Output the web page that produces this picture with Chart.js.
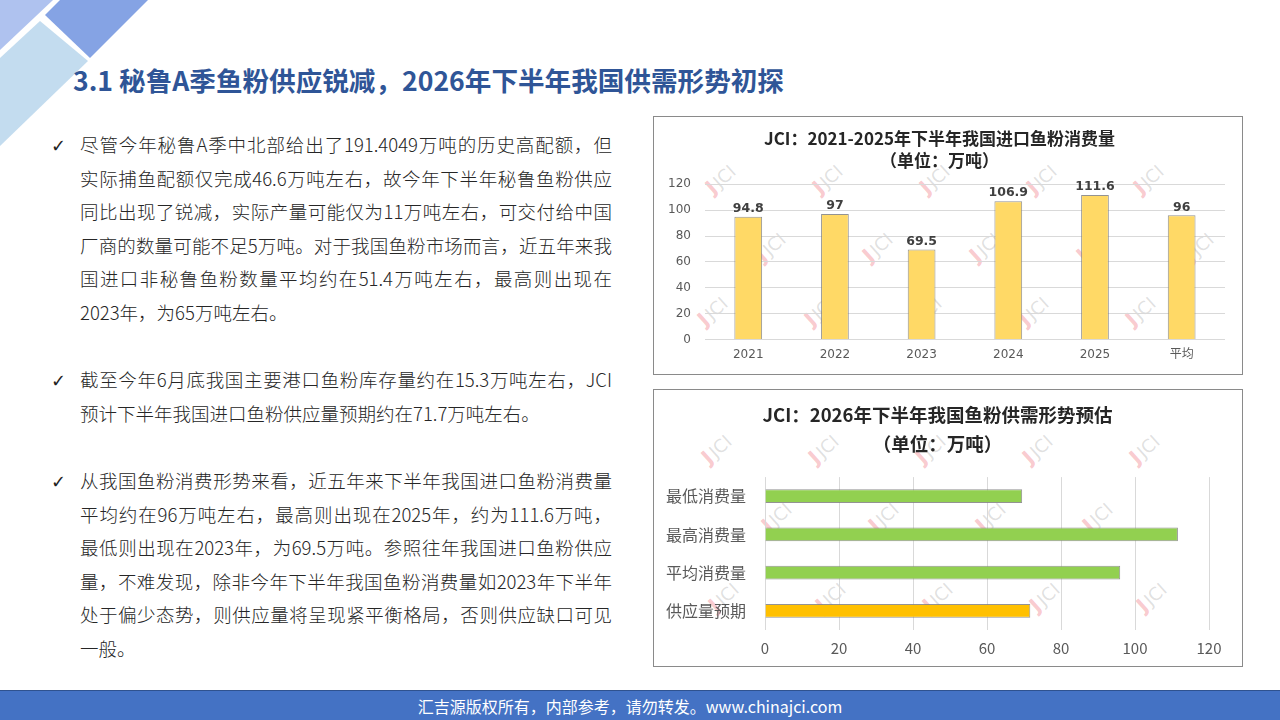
<!DOCTYPE html>
<html>
<head>
<meta charset="utf-8">
<script src="https://cdn.jsdelivr.net/npm/chart.js@4"></script>
<style>
  body{margin:0;width:1280px;height:720px;overflow:hidden;background:#fff;font-family:"Noto Sans CJK SC","Noto Sans",sans-serif;position:relative}
  #deco{position:absolute;left:0;top:0}
  #title{position:absolute;left:73px;top:62px;font-size:26.6px;line-height:36px;font-weight:bold;color:#2F5597;white-space:nowrap}
  #body{position:absolute;left:80px;top:128px;width:532px;font-size:18.5px;line-height:33.6px;color:#262626;font-weight:300}
  .para{position:relative;margin-bottom:33.6px}
  .para::before{content:"\2713";position:absolute;left:-29px;top:1px;font-family:"DejaVu Sans";font-size:18px;color:#222}
  .ln{text-align:justify;text-align-last:justify;white-space:nowrap}
  .ln.end{text-align-last:left}
  .box{position:absolute;left:653px;width:590px;border:1px solid #8a8a8a;box-sizing:border-box;background:#fff}
  .box canvas{position:relative;z-index:2}
  .wmlayer{position:absolute;left:0;top:0;width:100%;height:100%;z-index:1;overflow:hidden}
  .wm{position:absolute;transform:rotate(-42deg);font-family:"DejaVu Sans";font-size:18px;color:rgba(160,160,160,.33);white-space:nowrap}
  .wm b{color:rgba(240,120,130,.4);font-size:20px;margin-right:2px}
  #footer{position:absolute;left:0;top:690px;width:1280px;height:30px;background:#4472C4;border-top:1px solid #2F528F;box-sizing:border-box}
  #footer span{position:absolute;left:0;width:1260px;text-align:center;top:4px;font-size:16px;color:#fff;line-height:22px}
</style>
</head>
<body>
<svg id="deco" width="160" height="160">
  <polygon points="0,0 53,0 0,50" fill="#AFC2EF"/>
  <polygon points="60,0 148,0 90,58 45,15" fill="#85A3E4"/>
  <polygon points="40,21 88,61 0,146 0,58" fill="#C3DCEF"/>
</svg>
<div id="title">3.1 秘鲁A季鱼粉供应锐减，2026年下半年我国供需形势初探</div>

<div id="body">
  <div class="para">
    <div class="ln">尽管今年秘鲁A季中北部给出了191.4049万吨的历史高配额，但</div>
    <div class="ln">实际捕鱼配额仅完成46.6万吨左右，故今年下半年秘鲁鱼粉供应</div>
    <div class="ln">同比出现了锐减，实际产量可能仅为11万吨左右，可交付给中国</div>
    <div class="ln">厂商的数量可能不足5万吨。对于我国鱼粉市场而言，近五年来我</div>
    <div class="ln">国进口非秘鲁鱼粉数量平均约在51.4万吨左右，最高则出现在</div>
    <div class="ln end">2023年，为65万吨左右。</div>
  </div>
  <div class="para">
    <div class="ln">截至今年6月底我国主要港口鱼粉库存量约在15.3万吨左右，JCI</div>
    <div class="ln end">预计下半年我国进口鱼粉供应量预期约在71.7万吨左右。</div>
  </div>
  <div class="para">
    <div class="ln">从我国鱼粉消费形势来看，近五年来下半年我国进口鱼粉消费量</div>
    <div class="ln">平均约在96万吨左右，最高则出现在2025年，约为111.6万吨，</div>
    <div class="ln">最低则出现在2023年，为69.5万吨。参照往年我国进口鱼粉供应</div>
    <div class="ln">量，不难发现，除非今年下半年我国鱼粉消费量如2023年下半年</div>
    <div class="ln">处于偏少态势，则供应量将呈现紧平衡格局，否则供应缺口可见</div>
    <div class="ln end">一般。</div>
  </div>
</div>

<div class="box" id="box1" style="top:116px;height:259px"><div class="wmlayer" id="wm1"></div><canvas id="c1"></canvas></div>
<div class="box" id="box2" style="top:389px;height:278px"><div class="wmlayer" id="wm2"></div><canvas id="c2"></canvas></div>

<div id="footer"><span>汇吉源版权所有，内部参考，请勿转发。www.chinajci.com</span></div>

<script>
// chart 1 data
const years = ["2021", "2022", "2023", "2024", "2025", "平均"];
const consumption = [94.8, 97, 69.5, 106.9, 111.6, 96];
// chart 2 data
const balanceLabels = ["最低消费量", "最高消费量", "平均消费量", "供应量预期"];
const balanceValues = [69.5, 111.6, 96, 71.7];
// shared axis range
const axisMin = 0, axisMax = 120, axisStep = 20;

const balanceColors = ["#92D050", "#92D050", "#92D050", "#FFC000"];
const tickColor = "#595959";
const gridColor = "#D9D9D9";

// watermark logos (decoration only)
function addMarks(layerId, boxLeft, boxTop, rows){
  let layer = document.getElementById(layerId);
  rows.forEach(r=>{
    for(let k=0;k<r.n;k++){
      let s = document.createElement("span");
      s.className="wm";
      s.innerHTML="<b>J</b>JCI";
      s.style.left=(r.x+107*k-boxLeft-22)+"px";
      s.style.top=(r.y-boxTop-14)+"px";
      layer.appendChild(s);
    }
  });
}
addMarks("wm1",653,116,[{x:725,y:180,n:5},{x:775,y:248,n:5},{x:717,y:312,n:5}]);
addMarks("wm2",653,389,[{x:721,y:450,n:5},{x:781,y:518,n:4},{x:728,y:598,n:5}]);

const valueLabels = {
  id:"valueLabels",
  afterDatasetsDraw(chart){
    let ctx = chart.ctx;
    let meta = chart.getDatasetMeta(0);
    ctx.save();
    ctx.font = 'bold 12.5px "DejaVu Sans"';
    ctx.fillStyle = "#404040";
    ctx.textAlign = "center";
    ctx.textBaseline = "middle";
    meta.data.forEach((bar,i)=>{
      ctx.fillText(String(chart.data.datasets[0].data[i]), bar.x, bar.y-8);
    });
    ctx.restore();
  }
};

new Chart(document.getElementById("c1"), {
  type: "bar",
  data: {
    labels: years,
    datasets: [{
      data: consumption,
      backgroundColor: "#FFD966",
      borderColor: "rgba(128,128,128,0.85)",
      borderWidth: 1,
      barPercentage: 0.32,
      categoryPercentage: 1
    }]
  },
  options: {
    responsive: true,
    maintainAspectRatio: false,
    animation: false,
    layout: { padding: { left: 0, right: 17, top: 0, bottom: 4 } },
    plugins: {
      legend: { display: false },
      tooltip: { enabled: false },
      title: {
        display: true,
        text: ["JCI：2021-2025年下半年我国进口鱼粉消费量", "（单位：万吨）"],
        color: "#262626",
        font: { family: '"Noto Sans CJK SC"', size: 17, weight: "bold", lineHeight: 1.3 },
        padding: { top: 10, bottom: 13 }
      }
    },
    scales: {
      x: {
        grid: { display: false, drawTicks: false },
        border: { display: false },
        ticks: { color: tickColor, padding: 8, font: { family: '"DejaVu Sans","Noto Sans CJK SC"', size: 12 } }
      },
      y: {
        min: axisMin, max: axisMax,
        grid: { color: gridColor, drawTicks: false },
        border: { display: false },
        ticks: { stepSize: axisStep, color: tickColor, padding: 14, font: { family: '"DejaVu Sans"', size: 12 } }
      }
    }
  },
  plugins: [valueLabels]
});

new Chart(document.getElementById("c2"), {
  type: "bar",
  data: {
    labels: balanceLabels,
    datasets: [{
      data: balanceValues,
      backgroundColor: balanceColors,
      borderColor: "rgba(128,128,128,0.85)",
      borderWidth: 1,
      barPercentage: 0.36,
      categoryPercentage: 1
    }]
  },
  options: {
    indexAxis: "y",
    responsive: true,
    maintainAspectRatio: false,
    animation: false,
    layout: { padding: { left: 12, right: 33, top: 0, bottom: 0 } },
    plugins: {
      legend: { display: false },
      tooltip: { enabled: false },
      title: {
        display: true,
        text: ["JCI：2026年下半年我国鱼粉供需形势预估", "（单位：万吨）"],
        color: "#262626",
        font: { family: '"Noto Sans CJK SC"', size: 18.5, weight: "bold", lineHeight: 1.57 },
        padding: { top: 10, bottom: 19 }
      }
    },
    scales: {
      x: {
        min: axisMin, max: axisMax,
        grid: { color: gridColor, drawTicks: false },
        border: { display: false },
        ticks: { stepSize: axisStep, color: tickColor, padding: 9, font: { family: '"Noto Sans CJK SC"', size: 15 } }
      },
      y: {
        grid: { display: false, drawTicks: false },
        border: { display: false },
        ticks: { crossAlign: "far", color: tickColor, padding: 9.5, font: { family: '"Noto Sans CJK SC"', size: 16 } }
      }
    }
  }
});
</script>
</body>
</html>
